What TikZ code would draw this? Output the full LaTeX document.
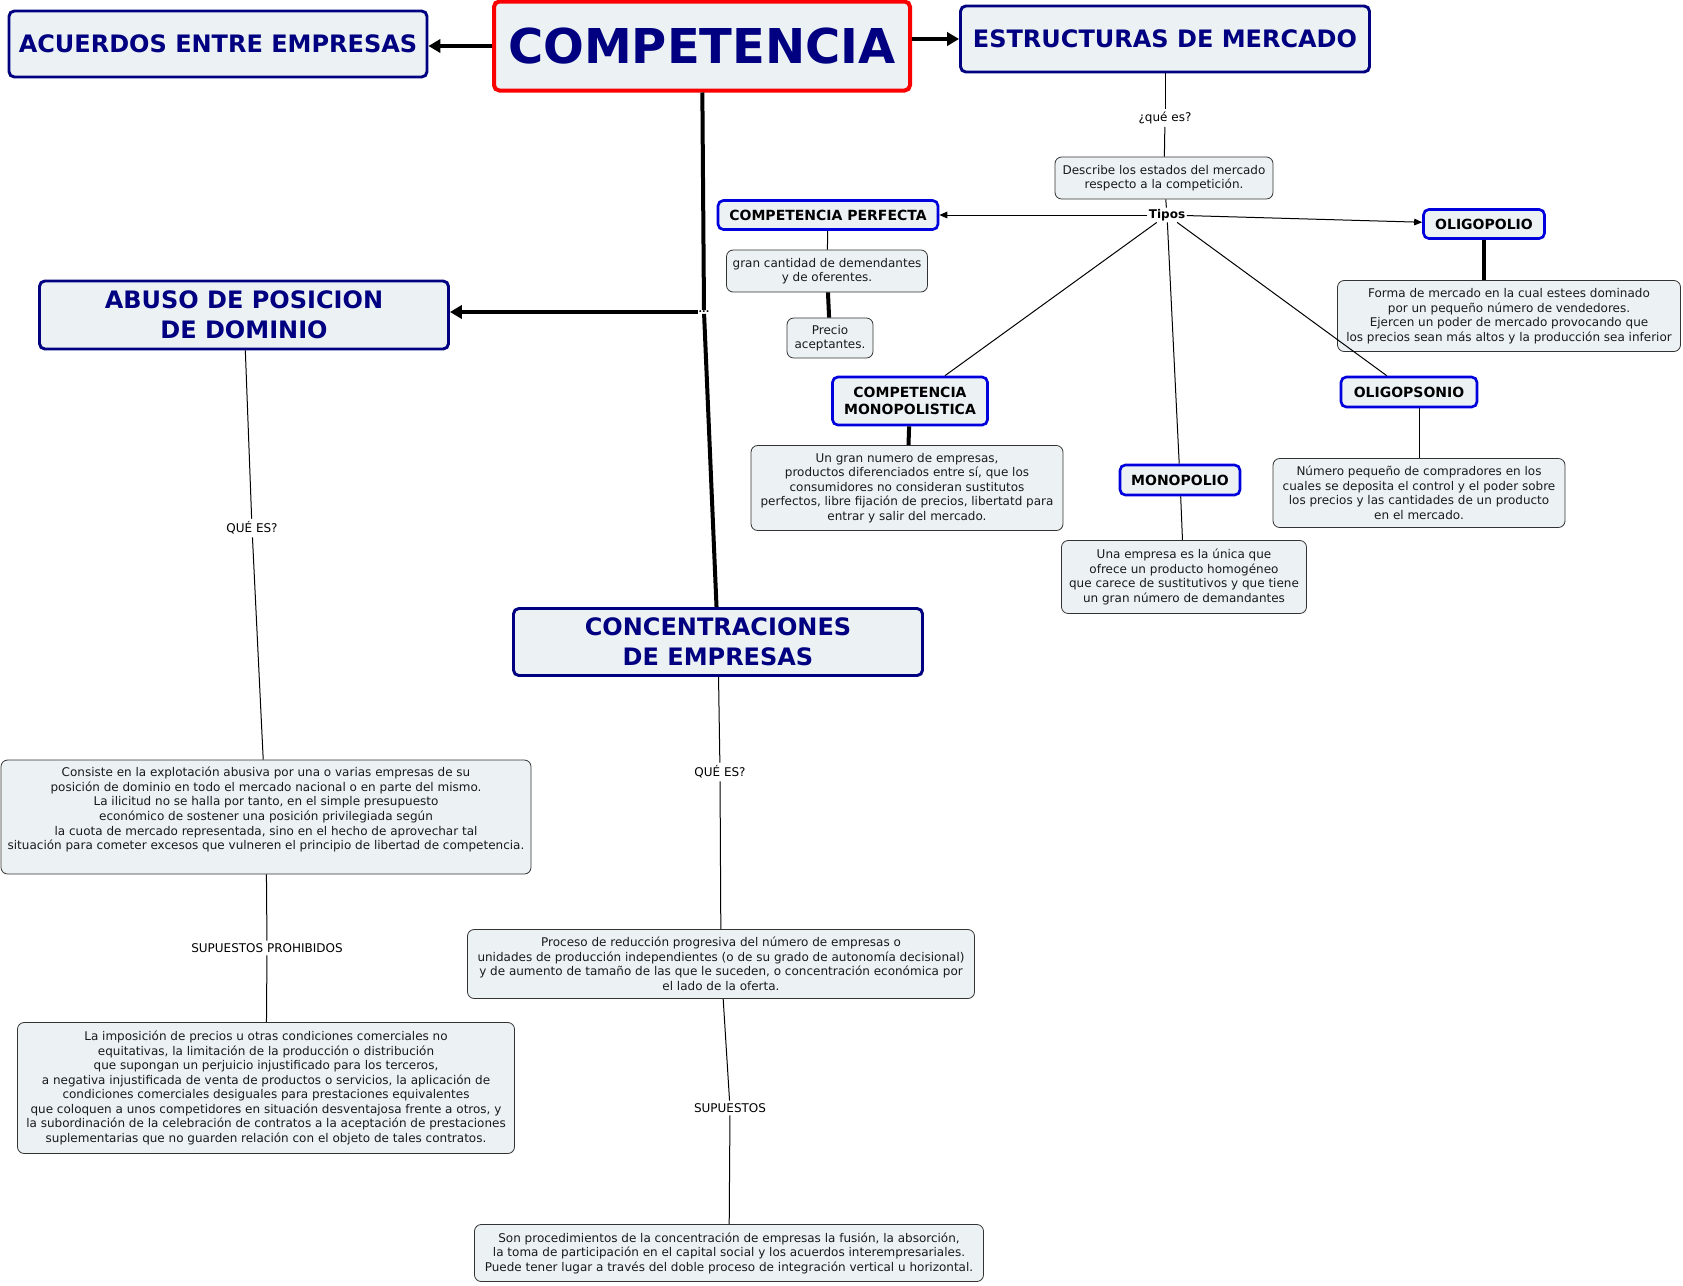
\documentclass[tikz,border=0pt]{standalone}
\usepackage{fontspec}
\setmainfont{DejaVu Sans}
\usetikzlibrary{arrows.meta, positioning}
\definecolor{mapnavy}{RGB}{0,0,128}
\definecolor{mapblue}{RGB}{0,0,220}
\definecolor{mapred}{RGB}{250,0,0}
\definecolor{mapfill}{RGB}{236,242,244}

\begin{document}
\begin{tikzpicture}[x=0.75pt, y=-0.75pt,
    root/.style={draw=mapred, line width=3pt, fill=mapfill, rounded corners=4pt,
        font=\bfseries\fontsize{36}{40}\selectfont, text=mapnavy, inner sep=0pt},
    head/.style={draw=mapnavy, line width=2.2pt, fill=mapfill, rounded corners=4pt,
        font=\bfseries\fontsize{18}{22.5}\selectfont, text=mapnavy, align=center, inner sep=0pt},
    sub/.style={draw=mapblue, line width=2pt, fill=mapfill, rounded corners=4pt,
        font=\bfseries\fontsize{10.5}{12.9}\selectfont, align=center, inner sep=0pt},
    txt/.style={draw=black!80, line width=0.6pt, fill=mapfill, rounded corners=5pt,
        font=\fontsize{9}{10.9}\selectfont, text=black!90, align=center, inner sep=0pt},
    lbl/.style={font=\fontsize{9}{10.9}\selectfont, inner sep=2pt},
    thin/.style={line width=0.75pt, black},
    thick/.style={line width=3pt},
    arr/.style={-{Triangle[length=9pt, width=10pt]}, line width=3pt},
    tarr/.style={-{Triangle[length=6pt, width=5pt]}, line width=0.75pt}
  ]
  \useasboundingbox (0,0) rectangle (1683,1285);

  % top row
  \node[root, minimum width=312pt, minimum height=66.75pt] (comp) at (702,46) {COMPETENCIA};
  \node[head, minimum width=313.5pt, minimum height=49.5pt] (acuerdos) at (218,44) {ACUERDOS ENTRE EMPRESAS};
  \node[head, minimum width=306.75pt, minimum height=49.5pt] (estr) at (1165,39) {ESTRUCTURAS DE MERCADO};

  % estructuras de mercado
  \node[lbl] (quees1) at (1165,118) {¿qué es?};
  \node[txt, minimum width=163.5pt, minimum height=31.5pt] (describe) at (1164,178)
      {Describe los estados del mercado\\respecto a la competición.};
  \node[lbl, font=\bfseries\fontsize{9}{10.9}\selectfont, inner sep=1pt] (tipos) at (1167,215) {Tipos};
  \node[sub, minimum width=165pt, minimum height=21.75pt] (perf) at (828,215) {COMPETENCIA PERFECTA};
  \node[txt, minimum width=150.75pt, minimum height=31.5pt] (gran) at (827,271)
      {gran cantidad de demendantes\\y de oferentes.};
  \node[txt, minimum width=64.5pt, minimum height=30pt] (precio) at (830,338) {Precio\\aceptantes.};
  \node[sub, minimum width=90.75pt, minimum height=21.75pt] (oligo) at (1484,224) {OLIGOPOLIO};
  \node[txt, minimum width=257.25pt, minimum height=53.25pt] (forma) at (1509,316)
      {Forma de mercado en la cual estees dominado\\por un pequeño número de vendedores.\\Ejercen un poder de mercado provocando que\\los precios sean más altos y la producción sea inferior};
  \node[sub, minimum width=116.25pt, minimum height=36pt] (mono) at (910,401) {COMPETENCIA\\MONOPOLISTICA};
  \node[txt, minimum width=234pt, minimum height=63.75pt] (ungran) at (907,488)
      {Un gran numero de empresas,\\productos diferenciados entre sí, que los\\consumidores no consideran sustitutos\\perfectos, libre fijación de precios, libertatd para\\entrar y salir del mercado.};
  \node[sub, minimum width=90pt, minimum height=22.5pt] (monop) at (1180,480) {MONOPOLIO};
  \node[txt, minimum width=183.75pt, minimum height=54.75pt] (unaemp) at (1184,577)
      {Una empresa es la única que\\ofrece un producto homogéneo\\que carece de sustitutivos y que tiene\\un gran número de demandantes};
  \node[sub, minimum width=102pt, minimum height=22.5pt] (oligops) at (1409,392) {OLIGOPSONIO};
  \node[txt, minimum width=219pt, minimum height=51.75pt] (numero) at (1419,493)
      {Número pequeño de compradores en los\\cuales se deposita el control y el poder sobre\\los precios y las cantidades de un producto\\en el mercado.};

  % abuso y concentraciones
  \node[font=\bfseries\fontsize{7}{7}\selectfont, inner sep=0.5pt] (dots) at (704,312) {...};
  \node[head, minimum width=306.75pt, minimum height=51pt] (abuso) at (244,315) {ABUSO DE POSICION\\DE DOMINIO};
  \node[head, minimum width=306.75pt, minimum height=50.25pt] (concen) at (718,642) {CONCENTRACIONES\\DE EMPRESAS};

  \node[lbl] (quees2) at (252,528) {QUÉ ES?};
  \node[txt, minimum width=397.5pt, minimum height=85.5pt] (consiste) at (266,817)
      {Consiste en la explotación abusiva por una o varias empresas de su\\posición de dominio en todo el mercado nacional o en parte del mismo.\\La ilicitud no se halla por tanto, en el simple presupuesto\\económico de sostener una posición privilegiada según\\la cuota de mercado representada, sino en el hecho de aprovechar tal\\situación para cometer excesos que vulneren el principio de libertad de competencia.\\[2pt]\mbox{}};
  \node[lbl] (supprohib) at (267,948) {SUPUESTOS PROHIBIDOS};
  \node[txt, minimum width=372.75pt, minimum height=98.25pt] (imposicion) at (266,1088)
      {La imposición de precios u otras condiciones comerciales no\\equitativas, la limitación de la producción o distribución\\que supongan un perjuicio injustificado para los terceros,\\a negativa injustificada de venta de productos o servicios, la aplicación de\\condiciones comerciales desiguales para prestaciones equivalentes\\que coloquen a unos competidores en situación desventajosa frente a otros, y\\la subordinación de la celebración de contratos a la aceptación de prestaciones\\suplementarias que no guarden relación con el objeto de tales contratos.};

  \node[lbl] (quees3) at (720,772) {QUÉ ES?};
  \node[txt, minimum width=380.25pt, minimum height=51.75pt] (proceso) at (721,964)
      {Proceso de reducción progresiva del número de empresas o\\unidades de producción independientes (o de su grado de autonomía decisional)\\y de aumento de tamaño de las que le suceden, o concentración económica por\\el lado de la oferta.};
  \node[lbl] (supuestos) at (730,1108) {SUPUESTOS};
  \node[txt, minimum width=381.75pt, minimum height=42.75pt] (son) at (729,1253)
      {Son procedimientos de la concentración de empresas la fusión, la absorción,\\la toma de participación en el capital social y los acuerdos interempresariales.\\Puede tener lugar a través del doble proceso de integración vertical u horizontal.};

  % connectors
  \draw[arr] (comp.west) -- (comp.west -| acuerdos.east);
  \draw[arr] (comp.east |- estr.west) -- (estr.west);
  \draw[thick] (comp) -- (dots);
  \draw[thick] (dots) -- (concen);
  \draw[arr] (dots) -- (dots -| abuso.east);

  \draw[thin] (estr) -- (quees1);
  \draw[thin] (quees1) -- (describe);
  \draw[thin] (describe) -- (tipos);
  \draw[tarr] (tipos) -- (perf);
  \draw[tarr] (tipos) -- (oligo);
  \draw[thin] (tipos) -- (mono);
  \draw[thin] (tipos) -- (monop);
  \draw[thin] (tipos) -- (oligops);
  \draw[thin] (perf) -- (gran);
  \draw[thick] (gran) -- (precio);
  \draw[thick] (oligo.south) -- (oligo.south |- forma.north);
  \draw[thick] (mono) -- (ungran);
  \draw[thin] (monop) -- (unaemp);
  \draw[thin] (numero.north |- oligops.south) -- (numero.north);

  \draw[thin] (abuso) -- (quees2);
  \draw[thin] (quees2) -- (consiste);
  \draw[thin] (consiste) -- (supprohib);
  \draw[thin] (supprohib) -- (imposicion);
  \draw[thin] (concen) -- (quees3);
  \draw[thin] (quees3) -- (proceso);
  \draw[thin] (proceso) -- (supuestos);
  \draw[thin] (supuestos) -- (son);
\end{tikzpicture}
\end{document}
